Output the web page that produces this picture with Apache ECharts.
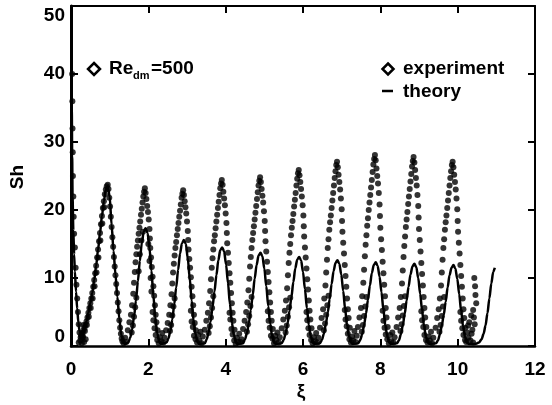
<!DOCTYPE html>
<html>
<head>
<meta charset="utf-8">
<script src="https://cdn.jsdelivr.net/npm/echarts@6/dist/echarts.min.js"></script>
<style>
html,body{margin:0;padding:0;background:#fff;}
#chart{width:552px;height:405px;}
</style>
</head>
<body>
<div id="chart"></div>
<script>
// ---- axis ticks ----
const xTicks = { min: 0, max: 12, interval: 2 };
const yTicks = { min: 0, max: 50, interval: 10 };

// ---- experiment ----
const expEntrance = [[0.03,40],[0.035,36],[0.04,32],[0.045,28.5],[0.05,25],[0.06,22],[0.07,19],[0.08,16.5],[0.1,14.5],[0.12,11.5],[0.14,9],[0.16,7],[0.18,5],[0.2,3.2],[0.22,2.0],[0.32,3.1],[0.24,0.8],[0.28,0.4],[0.3,1.2],[0.34,0.6],[0.38,1.0],[0.2,0.5],[0.26,1.5]];
const expPeak1 = [[0.25,1.3],[0.275,1.6],[0.3,1.9],[0.325,2.3],[0.35,2.7],[0.375,3.1],[0.4,3.6],[0.425,4.2],[0.45,4.9],[0.475,5.6],[0.5,6.3],[0.525,7.0],[0.55,7.8],[0.575,8.7],[0.6,9.7],[0.625,10.7],[0.65,11.8],[0.675,13.0],[0.7,14.2],[0.725,15.4],[0.75,16.6],[0.775,17.9],[0.8,19.1],[0.825,20.3],[0.85,21.3],[0.875,22.3],[0.9,23.0],[0.925,23.5],[0.95,23.7],[0.97,23.1],[0.99,21.8],[1.01,20.5],[1.03,19.0],[1.05,17.5],[1.07,16.0],[1.09,14.6],[1.11,13.1],[1.13,11.7],[1.15,10.4],[1.17,9.1],[1.19,7.8],[1.21,6.4],[1.23,5.1],[1.25,3.8],[1.27,2.7],[1.29,1.8],[1.31,1.1],[1.33,0.7],[1.36,0.4],[1.4,1.2],[1.43,0.6],
  [0.31,1.4],[0.36,2.2],[0.41,3.1],[0.46,4.3],[0.51,5.6],[0.56,7.0],[0.61,8.8],[0.66,10.8],[0.71,13.0],[0.76,15.5],[0.81,18.0],[0.86,20.4]];
const expPeak2 = [[1.91,23.2],[1.89,22.7],[1.87,22.0],[1.85,21.1],[1.83,20.2],[1.81,19.3],[1.79,18.3],[1.77,17.4],[1.75,16.5],[1.73,15.5],[1.71,14.6],[1.69,13.5],[1.67,12.3],[1.65,10.9],[1.63,9.3],[1.61,7.7],[1.58,6.0],[1.55,4.6],[1.51,3.5],[1.47,2.3],
  [1.93,22.5],[1.95,21.6],[1.97,20.6],[1.99,19.7],[2.01,18.6],[2.03,17.2],[2.04,15.8],[2.05,14.4],[2.07,13.0],[2.09,11.6],[2.11,10.2],[2.13,8.8],[2.15,7.4],[2.17,6.0],[2.19,4.6],[2.21,3.5],[2.24,2.3],
  [1.75,11.0],[1.78,13.5],[1.82,15.5],[1.86,16.8],[2.0,15.0],[2.03,12.5],[2.06,10.0],[2.08,8.0],
  [1.57,2.0],[1.60,3.0],[1.63,4.3],[1.66,5.7],[1.69,7.1],[2.11,5.0],[2.13,3.8],[2.16,2.6],[2.19,1.6],[2.23,0.9],[2.27,0.4],[2.30,1.3],[2.33,0.7],[2.36,1.9],[2.39,0.5],[2.42,1.2]];
const expPeak3 = [[2.90,22.9],[2.88,22.4],[2.86,21.8],[2.84,20.8],[2.82,19.9],[2.80,19.0],[2.78,18.1],[2.76,17.2],[2.74,16.3],[2.72,15.3],[2.70,14.4],[2.68,13.3],[2.66,12.1],[2.64,10.8],[2.62,9.2],[2.60,7.6],[2.57,6.0],[2.54,4.6],[2.50,3.4],[2.46,2.3],
  [2.92,22.2],[2.94,21.3],[2.96,20.4],[2.98,19.5],[3.00,18.3],[3.02,16.9],[3.03,15.6],[3.04,14.2],[3.06,12.8],[3.08,11.5],[3.10,10.1],[3.12,8.7],[3.14,7.3],[3.16,6.0],[3.18,4.6],[3.20,3.4],[3.23,2.3],
  [2.56,2.2],[2.59,3.1],[2.62,4.5],[2.65,5.8],[2.68,7.0],[3.10,5.2],[3.12,3.6],[3.15,2.8],[3.18,1.5],[3.22,1.0],[3.26,0.5],[3.29,1.6],[3.32,0.8],[3.35,2.1],[3.38,0.4],[3.41,1.4]];
const expPeak4 = [[3.90,24.4],[3.88,23.9],[3.86,23.2],[3.84,22.2],[3.82,21.2],[3.80,20.3],[3.78,19.3],[3.76,18.3],[3.74,17.3],[3.72,16.3],[3.70,15.4],[3.68,14.2],[3.66,12.9],[3.64,11.5],[3.62,9.8],[3.60,8.1],[3.57,6.3],[3.54,4.9],[3.50,3.7],[3.46,2.4],
  [3.92,23.7],[3.94,22.7],[3.96,21.7],[3.98,20.7],[4.00,19.5],[4.02,18.1],[4.03,16.6],[4.04,15.1],[4.06,13.7],[4.08,12.2],[4.10,10.7],[4.12,9.3],[4.14,7.8],[4.16,6.3],[4.18,4.9],[4.20,3.7],[4.23,2.4],
  [3.56,1.9],[3.59,2.9],[3.62,4.2],[3.65,5.6],[3.68,7.3],[4.10,4.9],[4.12,3.9],[4.15,2.5],[4.18,1.7],[4.22,0.8],[4.26,0.3],[4.29,1.2],[4.32,0.6],[4.35,1.8],[4.38,0.6],[4.41,1.0]];
const expPeak5 = [[4.89,24.8],[4.87,24.3],[4.85,23.6],[4.83,22.6],[4.81,21.6],[4.79,20.6],[4.77,19.6],[4.75,18.6],[4.73,17.6],[4.71,16.6],[4.69,15.6],[4.67,14.4],[4.65,13.1],[4.63,11.7],[4.61,9.9],[4.59,8.2],[4.56,6.4],[4.53,5.0],[4.49,3.7],[4.45,2.5],
  [4.91,24.1],[4.93,23.1],[4.95,22.1],[4.97,21.1],[4.99,19.8],[5.01,18.4],[5.02,16.9],[5.03,15.4],[5.05,13.9],[5.07,12.4],[5.09,10.9],[5.11,9.4],[5.13,7.9],[5.15,6.4],[5.17,5.0],[5.19,3.7],[5.22,2.5],
  [4.55,2.1],[4.58,3.2],[4.61,4.4],[4.64,5.9],[4.67,7.2],[5.09,5.1],[5.11,3.7],[5.14,2.7],[5.17,1.5],[5.21,1.1],[5.25,0.4],[5.28,1.5],[5.31,0.9],[5.34,2.0],[5.37,0.5],[5.40,1.3]];
const expPeak6 = [[5.89,25.9],[5.87,25.4],[5.85,24.6],[5.83,23.6],[5.81,22.5],[5.79,21.5],[5.77,20.5],[5.75,19.4],[5.73,18.4],[5.71,17.4],[5.69,16.3],[5.67,15.0],[5.65,13.7],[5.63,12.2],[5.61,10.4],[5.59,8.5],[5.56,6.7],[5.53,5.2],[5.49,3.9],[5.45,2.6],
  [5.91,25.1],[5.93,24.1],[5.95,23.1],[5.97,22.0],[5.99,20.7],[6.01,19.2],[6.02,17.6],[6.03,16.1],[6.05,14.5],[6.07,13.0],[6.09,11.4],[6.11,9.8],[6.13,8.3],[6.15,6.7],[6.17,5.2],[6.19,3.9],[6.22,2.6],
  [5.55,2.0],[5.58,3.0],[5.61,4.3],[5.64,5.7],[5.67,7.1],[6.09,5.0],[6.11,3.8],[6.14,2.6],[6.17,1.6],[6.21,0.9],[6.25,0.4],[6.28,1.3],[6.31,0.7],[6.34,1.9],[6.37,0.5],[6.40,1.2]];
const expPeak7 = [[6.88,27.1],[6.86,26.6],[6.84,25.7],[6.82,24.7],[6.80,23.6],[6.78,22.5],[6.76,21.4],[6.74,20.3],[6.72,19.2],[6.70,18.2],[6.68,17.1],[6.66,15.7],[6.64,14.4],[6.62,12.7],[6.60,10.8],[6.58,8.9],[6.55,7.0],[6.52,5.4],[6.48,4.1],[6.44,2.7],
  [6.90,26.3],[6.92,25.2],[6.94,24.1],[6.96,23.0],[6.98,21.7],[7.00,20.1],[7.01,18.4],[7.02,16.8],[7.04,15.2],[7.06,13.6],[7.08,11.9],[7.10,10.3],[7.12,8.7],[7.14,7.0],[7.16,5.4],[7.18,4.1],[7.21,2.7],
  [6.54,2.3],[6.57,3.3],[6.60,4.6],[6.63,6.0],[6.66,7.4],[7.08,5.3],[7.10,3.9],[7.13,2.9],[7.16,1.8],[7.20,1.0],[7.24,0.5],[7.27,1.4],[7.30,0.8],[7.33,2.2],[7.36,0.6],[7.39,1.5]];
const expPeak8 = [[7.86,28.1],[7.84,27.5],[7.82,26.7],[7.80,25.6],[7.78,24.4],[7.76,23.3],[7.74,22.2],[7.72,21.1],[7.70,20.0],[7.68,18.8],[7.66,17.7],[7.64,16.3],[7.62,14.9],[7.60,13.2],[7.58,11.2],[7.56,9.3],[7.53,7.3],[7.50,5.6],[7.46,4.2],[7.42,2.8],
  [7.88,27.3],[7.90,26.1],[7.92,25.0],[7.94,23.9],[7.96,22.5],[7.98,20.8],[7.99,19.1],[8.00,17.4],[8.02,15.7],[8.04,14.1],[8.06,12.4],[8.08,10.7],[8.10,9.0],[8.12,7.3],[8.14,5.6],[8.16,4.2],[8.19,2.8],
  [7.52,2.1],[7.55,3.1],[7.58,4.4],[7.61,5.8],[7.64,7.2],[8.06,5.2],[8.08,3.7],[8.11,2.7],[8.14,1.7],[8.18,1.0],[8.22,0.4],[8.25,1.6],[8.28,0.7],[8.31,2.0],[8.34,0.5],[8.37,1.3]];
const expPeak9 = [[8.86,27.8],[8.84,27.2],[8.82,26.4],[8.80,25.3],[8.78,24.2],[8.76,23.1],[8.74,22.0],[8.72,20.9],[8.70,19.7],[8.68,18.6],[8.66,17.5],[8.64,16.1],[8.62,14.7],[8.60,13.1],[8.58,11.1],[8.56,9.2],[8.53,7.2],[8.50,5.6],[8.46,4.2],[8.42,2.8],
  [8.88,27.0],[8.90,25.9],[8.92,24.7],[8.94,23.6],[8.96,22.2],[8.98,20.6],[8.99,18.9],[9.00,17.2],[9.02,15.6],[9.04,13.9],[9.06,12.2],[9.08,10.6],[9.10,8.9],[9.12,7.2],[9.14,5.6],[9.16,4.2],[9.19,2.8],
  [8.52,2.2],[8.55,3.2],[8.58,4.5],[8.61,5.9],[8.64,7.3],[9.06,5.1],[9.08,3.8],[9.11,2.8],[9.14,1.6],[9.18,0.9],[9.22,0.5],[9.25,1.4],[9.28,0.8],[9.31,2.1],[9.34,0.4],[9.37,1.2]];
const expPeak10 = [[9.87,27.1],[9.85,26.6],[9.83,25.7],[9.81,24.7],[9.79,23.6],[9.77,22.5],[9.75,21.4],[9.73,20.3],[9.71,19.2],[9.69,18.2],[9.67,17.1],[9.65,15.7],[9.63,14.4],[9.61,12.7],[9.59,10.8],[9.57,8.9],[9.54,7.0],[9.51,5.4],[9.47,4.1],[9.43,2.7],
  [9.89,26.3],[9.91,25.2],[9.93,24.1],[9.95,23.0],[9.97,21.7],[9.99,20.1],[10.00,18.4],[10.01,16.8],[10.03,15.2],[10.05,13.6],[10.07,11.9],[10.09,10.3],[10.11,8.7],[10.13,7.0],[10.15,5.4],[10.17,4.1],[10.20,2.7],
  [9.53,2.1],[9.56,3.1],[9.59,4.4],[9.62,5.8],[9.65,7.2],[10.07,5.0],[10.09,3.7],[10.12,2.6],[10.15,1.6],[10.19,0.9]];
const expTail = [[10.22,0.6],[10.25,2.0],[10.28,1.2],[10.3,3.5],[10.33,0.8],[10.36,1.8],[10.38,2.4],[10.4,5.3],[10.4,0.5],[10.42,4.2],[10.43,10.0],[10.44,3.2],[10.45,8.8],[10.46,7.5],[10.48,6.3],[10.35,4.5],[10.27,3.0]];

// ---- theory ----
const theoryEntrance = [[0.01,42],[0.02,35],[0.03,28],[0.04,22],[0.06,17],[0.08,13.5],[0.1,11],[0.13,8],[0.16,5.5],[0.19,3.5],[0.22,2.2]];
const theoryPeak1 = [[0.25,1.5],[0.3,1.9],[0.35,2.7],[0.4,3.6],[0.45,4.9],[0.5,6.3],[0.55,7.8],[0.6,9.7],[0.65,11.8],[0.7,14.2],[0.75,16.6],[0.8,19.1],[0.85,21.3],[0.9,23.0],[0.95,23.5],[1.0,22.0],[1.05,17.8],[1.1,14.0],[1.15,10.5],[1.2,7.2],[1.25,4.0],[1.3,1.6],[1.35,0.5],[1.4,0.3]];
const theoryPeak2 = [[1.48,0.5],[1.53,1.2],[1.58,2.4],[1.63,4.3],[1.68,6.7],[1.73,9.5],[1.78,12.5],[1.83,15.1],[1.88,16.8],[1.93,17.3],[1.98,16.6],[2.03,14.4],[2.08,11.1],[2.13,7.4],[2.18,4.2],[2.23,1.9],[2.28,0.7],[2.33,0.3]];
const theoryPeak3 = [[2.47,0.5],[2.52,1.1],[2.57,2.2],[2.62,3.9],[2.67,6.1],[2.72,8.6],[2.77,11.2],[2.82,13.6],[2.87,15.1],[2.92,15.6],[2.97,15.0],[3.02,12.9],[3.07,10.0],[3.12,6.7],[3.17,3.7],[3.22,1.7],[3.27,0.6],[3.32,0.3]];
const theoryPeak4 = [[3.46,0.4],[3.51,1.0],[3.56,2.0],[3.61,3.6],[3.66,5.7],[3.71,8.0],[3.76,10.4],[3.81,12.6],[3.86,14.1],[3.91,14.5],[3.96,13.9],[4.01,12.0],[4.06,9.3],[4.11,6.2],[4.16,3.5],[4.21,1.6],[4.26,0.6],[4.31,0.3]];
const theoryPeak5 = [[4.45,0.4],[4.50,1.0],[4.55,1.9],[4.60,3.4],[4.65,5.3],[4.70,7.5],[4.75,9.9],[4.80,11.9],[4.85,13.3],[4.90,13.7],[4.95,13.2],[5.00,11.4],[5.05,8.8],[5.10,5.9],[5.15,3.3],[5.20,1.5],[5.25,0.5],[5.30,0.3]];
const theoryPeak6 = [[5.45,0.4],[5.50,0.9],[5.55,1.8],[5.60,3.3],[5.65,5.1],[5.70,7.2],[5.75,9.4],[5.80,11.4],[5.85,12.7],[5.90,13.1],[5.95,12.6],[6.00,10.9],[6.05,8.4],[6.10,5.6],[6.15,3.1],[6.20,1.4],[6.25,0.5],[6.30,0.3]];
const theoryPeak7 = [[6.44,0.4],[6.49,0.9],[6.54,1.8],[6.59,3.2],[6.64,4.9],[6.69,6.9],[6.74,9.1],[6.79,11.0],[6.84,12.2],[6.89,12.6],[6.94,12.1],[6.99,10.5],[7.04,8.1],[7.09,5.4],[7.14,3.0],[7.19,1.4],[7.24,0.5],[7.29,0.3]];
const theoryPeak8 = [[7.43,0.4],[7.48,0.9],[7.53,1.7],[7.58,3.1],[7.63,4.8],[7.68,6.8],[7.73,8.9],[7.78,10.7],[7.83,11.9],[7.88,12.3],[7.93,11.8],[7.98,10.2],[8.03,7.9],[8.08,5.3],[8.13,3.0],[8.18,1.4],[8.23,0.5],[8.28,0.3]];
const theoryPeak9 = [[8.43,0.4],[8.48,0.8],[8.53,1.7],[8.58,3.0],[8.63,4.7],[8.68,6.7],[8.73,8.7],[8.78,10.5],[8.83,11.7],[8.88,12.1],[8.93,11.6],[8.98,10.0],[9.03,7.7],[9.08,5.2],[9.13,2.9],[9.18,1.3],[9.23,0.5],[9.28,0.3]];
const theoryPeak10 = [[9.44,0.4],[9.49,0.8],[9.54,1.7],[9.59,3.0],[9.64,4.6],[9.69,6.5],[9.74,8.6],[9.79,10.4],[9.84,11.5],[9.89,11.9],[9.94,11.4],[9.99,9.9],[10.04,7.6],[10.09,5.1],[10.14,2.9],[10.19,1.3],[10.24,0.5],[10.29,0.3]];
const theoryEnd = [[10.45,0.3],[10.55,0.5],[10.62,1.0],[10.67,1.8],[10.72,3.0],[10.77,4.8],[10.82,7.0],[10.87,9.2],[10.92,10.9],[10.96,11.5]];

// ---- texts ----
const xName = 'ξ';
const yName = 'Sh';
const legendExp = 'experiment';
const legendTheory = 'theory';
const reMain = 'Re', reSub = 'dm', reVal = '=500';

const experiment = [].concat(expEntrance, expPeak1, expPeak2, expPeak3, expPeak4, expPeak5,
  expPeak6, expPeak7, expPeak8, expPeak9, expPeak10, expTail);
const theory = [].concat(theoryEntrance, theoryPeak1, theoryPeak2, theoryPeak3, theoryPeak4,
  theoryPeak5, theoryPeak6, theoryPeak7, theoryPeak8, theoryPeak9, theoryPeak10, theoryEnd);

const FONT = '"Liberation Sans", Arial, Helvetica, sans-serif';
const labelStyle = { color: '#000', fontFamily: FONT, fontWeight: 'bold', fontSize: 19 };

const chart = echarts.init(document.getElementById('chart'), null, { renderer: 'canvas' });

function diamond(cx, cy, r) {
  return { type: 'polygon', shape: { points: [[cx, cy - r], [cx + r, cy], [cx, cy + r], [cx - r, cy]] },
    style: { fill: '#fff', stroke: '#000', lineWidth: 2.5 }, z: 100 };
}
function txt(x, y, text, size, extra) {
  return Object.assign({ type: 'text', x: x, y: y, z: 100,
    style: { text: text, fill: '#000', font: 'bold ' + size + 'px ' + FONT, align: 'left', verticalAlign: 'middle' } }, extra || {});
}

chart.setOption({
  animation: false,
  backgroundColor: '#fff',
  grid: { left: 71, right: 17, top: 6, bottom: 59, containLabel: false },
  xAxis: [
    { type: 'value', min: xTicks.min, max: xTicks.max, interval: xTicks.interval, position: 'bottom',
      axisLine: { show: true, onZero: false, lineStyle: { color: '#000', width: 2.5 } },
      axisTick: { show: true, inside: true, length: 7, lineStyle: { color: '#000', width: 2 } },
      axisLabel: Object.assign({ margin: 14 }, labelStyle),
      splitLine: { show: false } },
    { type: 'value', min: xTicks.min, max: xTicks.max, interval: xTicks.interval, position: 'top',
      axisLine: { show: true, onZero: false, lineStyle: { color: '#000', width: 2 } },
      axisTick: { show: true, inside: true, length: 7, lineStyle: { color: '#000', width: 2 } },
      axisLabel: { show: false }, splitLine: { show: false } }
  ],
  yAxis: [
    { type: 'value', min: yTicks.min, max: yTicks.max, interval: yTicks.interval, position: 'left',
      axisLine: { show: true, onZero: false, lineStyle: { color: '#000', width: 3 } },
      axisTick: { show: true, inside: true, length: 7, lineStyle: { color: '#000', width: 2 } },
      axisLabel: Object.assign({ margin: 6, verticalAlignMaxLabel: 'top', verticalAlignMinLabel: 'bottom' }, labelStyle),
      splitLine: { show: false } },
    { type: 'value', min: yTicks.min, max: yTicks.max, interval: yTicks.interval, position: 'right',
      axisLine: { show: true, onZero: false, lineStyle: { color: '#000', width: 2 } },
      axisTick: { show: true, inside: true, length: 7, lineStyle: { color: '#000', width: 2 } },
      axisLabel: { show: false }, splitLine: { show: false } }
  ],
  series: [
    { name: legendExp, type: 'scatter', xAxisIndex: 0, yAxisIndex: 0, data: experiment,
      symbol: 'circle', symbolSize: 6, itemStyle: { color: '#000' }, z: 3 },
    { name: legendTheory, type: 'line', xAxisIndex: 0, yAxisIndex: 0, data: theory,
      showSymbol: false, smooth: 0.3, smoothMonotone: 'x',
      lineStyle: { color: '#000', width: 2.5 }, z: 4 }
  ],
  graphic: [
    diamond(94, 69, 6),
    txt(109, 69, reMain, 19),
    txt(133, 76, reSub, 11),
    txt(151, 69, reVal, 19),
    diamond(388, 69, 5.5),
    txt(403, 69, legendExp, 19),
    { type: 'line', shape: { x1: 382, y1: 91, x2: 393, y2: 91 }, style: { stroke: '#000', lineWidth: 2.5 }, z: 100 },
    txt(403, 92, legendTheory, 19),
    txt(18, 177, yName, 19, { rotation: Math.PI / 2, style: { text: yName, fill: '#000', font: 'bold 19px ' + FONT, align: 'center', verticalAlign: 'middle' } }),
    txt(301, 392, xName, 19, { style: { text: xName, fill: '#000', font: 'bold 19px ' + FONT, align: 'center', verticalAlign: 'middle' } })
  ]
});
</script>
</body>
</html>
